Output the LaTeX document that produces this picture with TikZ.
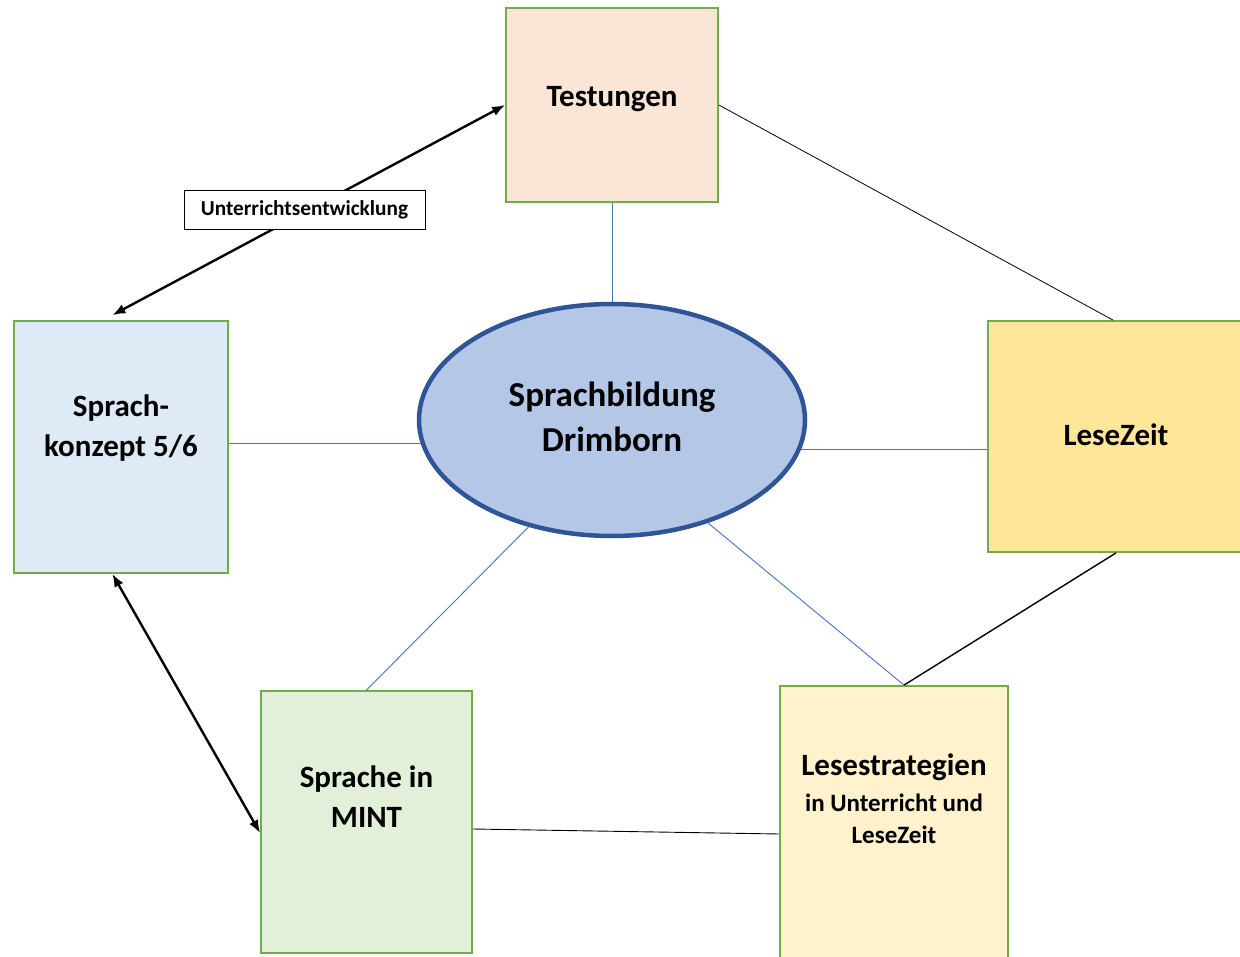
\documentclass[tikz,border=0pt]{standalone}
\usepackage{fontspec}
\setmainfont{Carlito}
\usetikzlibrary{arrows.meta,shapes.geometric,calc}
\definecolor{peach}{HTML}{FBE5D6}
\definecolor{lblue}{HTML}{DEEBF7}
\definecolor{gold}{HTML}{FFE699}
\definecolor{lgreen}{HTML}{E2F0D9}
\definecolor{cream}{HTML}{FFF2CC}
\definecolor{ellfill}{HTML}{B4C7E7}
\definecolor{elldraw}{HTML}{2F5597}
\definecolor{boxgreen}{HTML}{70AD47}
\definecolor{linkblue}{HTML}{4472C4}
\tikzset{
  topicbox/.style={draw=boxgreen, line width=1.8pt, inner sep=0pt},
  boxtext/.style={font=\bfseries\fontsize{31}{40}\selectfont, align=center, inner sep=0pt},
  bluelink/.style={draw=linkblue, line width=0.9pt},
  blacklink/.style={draw=black, line width=1pt},
  twoway/.style={draw=black, line width=2.4pt, {Latex[length=13pt,width=10pt]}-{Latex[length=13pt,width=10pt]}},
}
\begin{document}
\begin{tikzpicture}[x=1pt,y=-1pt]
\useasboundingbox (0,0) rectangle (1240,957);
\clip (0,0) rectangle (1240,957);
% boxes
\node[topicbox, fill=peach, minimum width=212pt, minimum height=194pt] (test) at (612,105) {};
\node[topicbox, fill=lblue, minimum width=214pt, minimum height=252pt] (sk) at (121,447) {};
\node[topicbox, fill=gold, minimum width=256pt, minimum height=231pt] (lese) at (1116,436.5) {};
\node[topicbox, fill=lgreen, minimum width=211pt, minimum height=262pt] (mint) at (366.5,822) {};
\node[topicbox, fill=cream, minimum width=228pt, minimum height=290pt] (lstr) at (894,831) {};
\node[ellipse, draw=elldraw, line width=4.5pt, fill=ellfill, minimum width=386pt, minimum height=232pt, inner sep=0pt] (ell) at (612,420) {};
% texts
\node[boxtext] (testt) at (612,99) {Testungen};
\node[boxtext] (skt) at (121,428) {Sprach-\\konzept 5/6};
\node[boxtext] (leset) at (1116,435) {LeseZeit};
\node[boxtext] (mintt) at (366.5,797) {Sprache in\\MINT};
\node[boxtext] (lstrt) at (894,767) {Lesestrategien};
\node[boxtext, font=\bfseries\fontsize{25}{32}\selectfont] (lstrt2) at (894,819) {in Unterricht und\\LeseZeit};
\node[boxtext, font=\bfseries\fontsize{35}{45}\selectfont] (ellt) at (612,417) {Sprachbildung\\Drimborn};
% connectors
\coordinate (lj) at ($(lstr.north)+(10,0)$);
\draw[bluelink] (test.south) -- (ell.north);
\draw[bluelink] (ell.187 -| sk.east) -- (ell.187);
\draw[bluelink] (ell.-9) -- (ell.-9 -| lese.west);
\draw[bluelink] (ell.232) -- (mint.north);
\draw[bluelink] (ell.-47) -- (lj);
\draw[blacklink, line width=0.8pt] (test.east) -- ($(lese.north)+(-3,0)$);
\draw[blacklink, line width=1.4pt] (lese.south) -- (lj);
\draw[blacklink, line width=0.9pt] ($(mint.east)+(0,7)$) -- ($(lstr.west)+(0,3)$);
\draw[twoway] ($(sk.north west)!0.46!(sk.north east)+(0,-5)$) -- (test.west);
\draw[twoway] ($(sk.south west)!0.46!(sk.south east)$) -- ($(mint.west)+(0,11)$);
\node[draw=black, line width=0.8pt, fill=white, minimum width=241pt, minimum height=39pt, inner sep=0pt, font=\bfseries\fontsize{21.3}{24}\selectfont] (ue) at (304.5,210) {Unterrichtsentwicklung};
\end{tikzpicture}
\end{document}
